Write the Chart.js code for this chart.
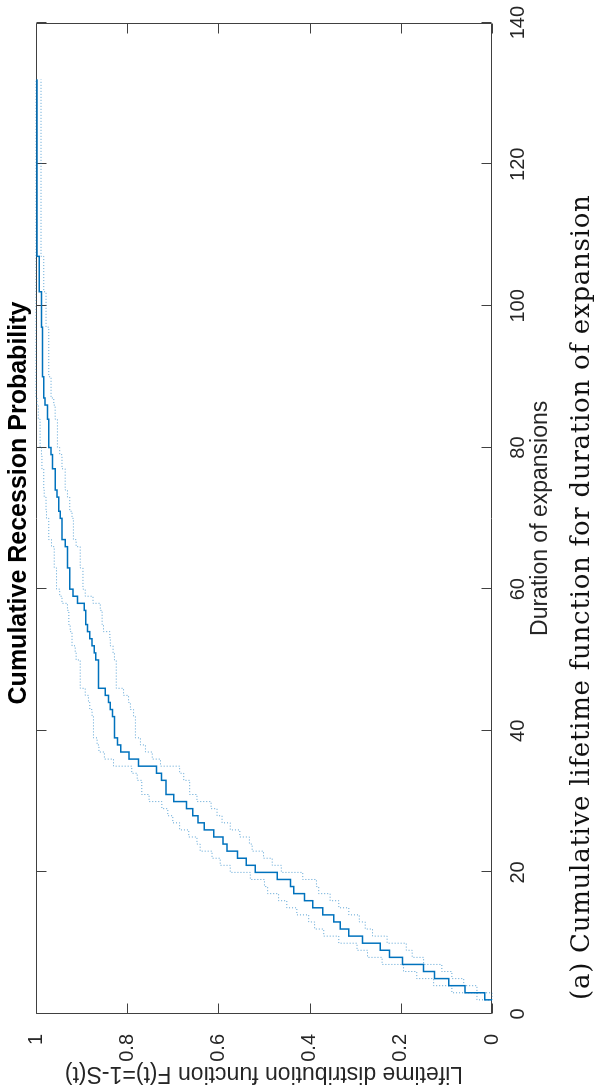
<!DOCTYPE html>
<html><head><meta charset="utf-8">
<script src="https://cdn.jsdelivr.net/npm/chart.js@4.4.1/dist/chart.umd.min.js"></script>
<style>
html,body{margin:0;padding:0;background:#fff;width:596px;height:1087px;overflow:hidden;}
#fig{position:absolute;left:0;top:0;width:1087px;height:596px;transform-origin:0 0;transform:translateY(1087px) rotate(-90deg);background:#fff;}
#c{position:absolute;left:0;top:0;width:1087px;height:596px;}
#caption{position:absolute;left:87px;top:564px;font-family:'DejaVu Serif',serif;font-size:26px;letter-spacing:0.75px;line-height:32px;color:#111;white-space:nowrap;}
</style></head><body>
<div id="fig"><canvas id="c" width="1087" height="596"></canvas><div id="caption">(a) Cumulative lifetime function for duration of expansion</div></div>
<script>
const durations = [2,3,4,5,6,7,8,9,10,11,12,13,14,15,16,17,18,19,20,21,22,23,24,25,26,27,28,29,30,31,33,34,35,36,37,38,39,42,43,44,45,46,50,51,52,53,54,55,57,58,59,60,63,66,67,70,71,73,74,77,79,80,84,86,87,90,97,102,107,132];
const cdfValues = [0.016,0.059,0.095,0.126,0.150,0.196,0.225,0.245,0.284,0.314,0.333,0.347,0.371,0.393,0.411,0.435,0.442,0.471,0.519,0.539,0.558,0.581,0.590,0.610,0.631,0.645,0.656,0.670,0.698,0.715,0.725,0.736,0.775,0.796,0.814,0.821,0.828,0.832,0.837,0.841,0.848,0.863,0.869,0.872,0.877,0.882,0.887,0.891,0.894,0.909,0.919,0.926,0.931,0.936,0.943,0.947,0.950,0.954,0.958,0.964,0.967,0.972,0.975,0.980,0.983,0.9855,0.988,0.993,0.998,0.998];
const lowerBound = [0.0,0.033,0.062,0.088,0.110,0.150,0.175,0.188,0.230,0.262,0.278,0.291,0.314,0.336,0.355,0.380,0.385,0.415,0.462,0.482,0.501,0.526,0.532,0.553,0.574,0.592,0.603,0.616,0.647,0.663,0.676,0.685,0.727,0.745,0.760,0.771,0.782,0.786,0.793,0.797,0.808,0.824,0.828,0.831,0.837,0.838,0.852,0.855,0.859,0.875,0.892,0.897,0.903,0.912,0.918,0.921,0.926,0.931,0.936,0.943,0.948,0.953,0.958,0.961,0.967,0.972,0.978,0.983,0.989,0.989];
const upperBound = [0.033,0.088,0.128,0.165,0.194,0.241,0.273,0.296,0.336,0.369,0.389,0.402,0.428,0.450,0.468,0.492,0.499,0.530,0.574,0.596,0.614,0.640,0.647,0.665,0.685,0.700,0.711,0.724,0.752,0.768,0.778,0.790,0.830,0.850,0.862,0.866,0.874,0.877,0.882,0.885,0.892,0.903,0.912,0.914,0.921,0.921,0.925,0.928,0.931,0.943,0.948,0.955,0.960,0.966,0.972,0.977,0.978,0.982,0.983,0.987,0.988,0.991,0.995,0.998,1,1,1,1,1,1];
const xTickValues = [0,20,40,60,80,100,120,140];
const yTickValues = [0,0.2,0.4,0.6,0.8,1];
const yTickLabels = ['0','0.2','0.4','0.6','0.8','1'];
const titleText = 'Cumulative Recession Probability';
const xLabel = 'Duration of expansions';
const yLabel = 'Lifetime distribution function F(t)=1-S(t)';

const FONT = "'Liberation Sans', Arial, Helvetica, sans-serif";
const TXT = '#262626';
const AX = '#404040';
const BLUE = '#0072BD';

function stair(vals){
  const pts = [{x: durations[0], y: 0}];
  durations.forEach((d,i)=>pts.push({x:d, y:vals[i]}));
  return pts;
}

const frame = {
  id:'frame',
  beforeDatasetsDraw(chart){
    const {ctx, chartArea:a, scales:{x,y}} = chart;
    ctx.save();
    ctx.strokeStyle = AX; ctx.lineWidth = 1;
    const L = Math.round(a.left)+0.5, R = Math.round(a.right)-0.5, T = Math.round(a.top)+0.5, B = Math.round(a.bottom)-0.5;
    ctx.beginPath();
    ctx.rect(L, T, R-L, B-T);
    const tl = 10;
    xTickValues.forEach(v=>{
      const px = Math.round(x.getPixelForValue(v))+0.5;
      ctx.moveTo(px,B); ctx.lineTo(px,B-tl);
      ctx.moveTo(px,T); ctx.lineTo(px,T+tl);
    });
    yTickValues.forEach(v=>{
      const py = Math.round(y.getPixelForValue(v))+0.5;
      ctx.moveTo(L,py); ctx.lineTo(L+tl,py);
      ctx.moveTo(R,py); ctx.lineTo(R-tl,py);
    });
    ctx.stroke();
    ctx.restore();
  },
  afterDraw(chart){
    const ctx = chart.ctx;
    ctx.save();
    ctx.fillStyle = '#000';
    ctx.font = "bold 25px " + FONT;
    ctx.textAlign = 'center'; ctx.textBaseline = 'middle';
    ctx.fillText(titleText, 584, 19);
    ctx.restore();
  }
};

new Chart(document.getElementById('c'), {
  type:'line',
  data:{datasets:[
    {data: stair(lowerBound), borderColor:'rgba(0,114,189,0.65)', borderWidth:1, borderDash:[1,2], stepped:'before', pointRadius:0, fill:false, clip:3},
    {data: stair(upperBound), borderColor:'rgba(0,114,189,0.65)', borderWidth:1, borderDash:[1,2], stepped:'before', pointRadius:0, fill:false, clip:3},
    {data: stair(cdfValues), borderColor:BLUE, borderWidth:1.5, stepped:'before', pointRadius:0, fill:false, clip:3}
  ]},
  options:{
    responsive:false, animation:false, devicePixelRatio:1,
    parsing:false, normalized:true,
    layout:{padding:{left:0,right:22,top:36,bottom:42}},
    plugins:{legend:{display:false}, title:{display:false}, tooltip:{enabled:false}},
    scales:{
      x:{type:'linear', min:0, max:140, position:'bottom',
        afterBuildTicks:s=>{s.ticks = xTickValues.map(v=>({value:v}));},
        ticks:{font:{family:FONT,size:20}, color:TXT, padding:6, maxRotation:0, autoSkip:false},
        grid:{display:false}, border:{display:false},
        title:{display:true, text:xLabel, font:{family:FONT,size:23}, color:TXT, padding:{top:0,bottom:0}},
        afterFit:s=>{s.height = 62;}
      },
      y:{type:'linear', min:0, max:1, position:'left',
        afterBuildTicks:s=>{s.ticks = yTickValues.map(v=>({value:v}));},
        ticks:{font:{family:FONT,size:20}, color:TXT, padding:12, autoSkip:false, callback:(v,i)=>yTickLabels[i]},
        grid:{display:false}, border:{display:false},
        title:{display:true, text:yLabel, font:{family:FONT,size:23}, color:TXT, padding:{top:0,bottom:0}},
        afterFit:s=>{s.width = 73;}
      }
    }
  },
  plugins:[frame]
});
</script>
</body></html>
